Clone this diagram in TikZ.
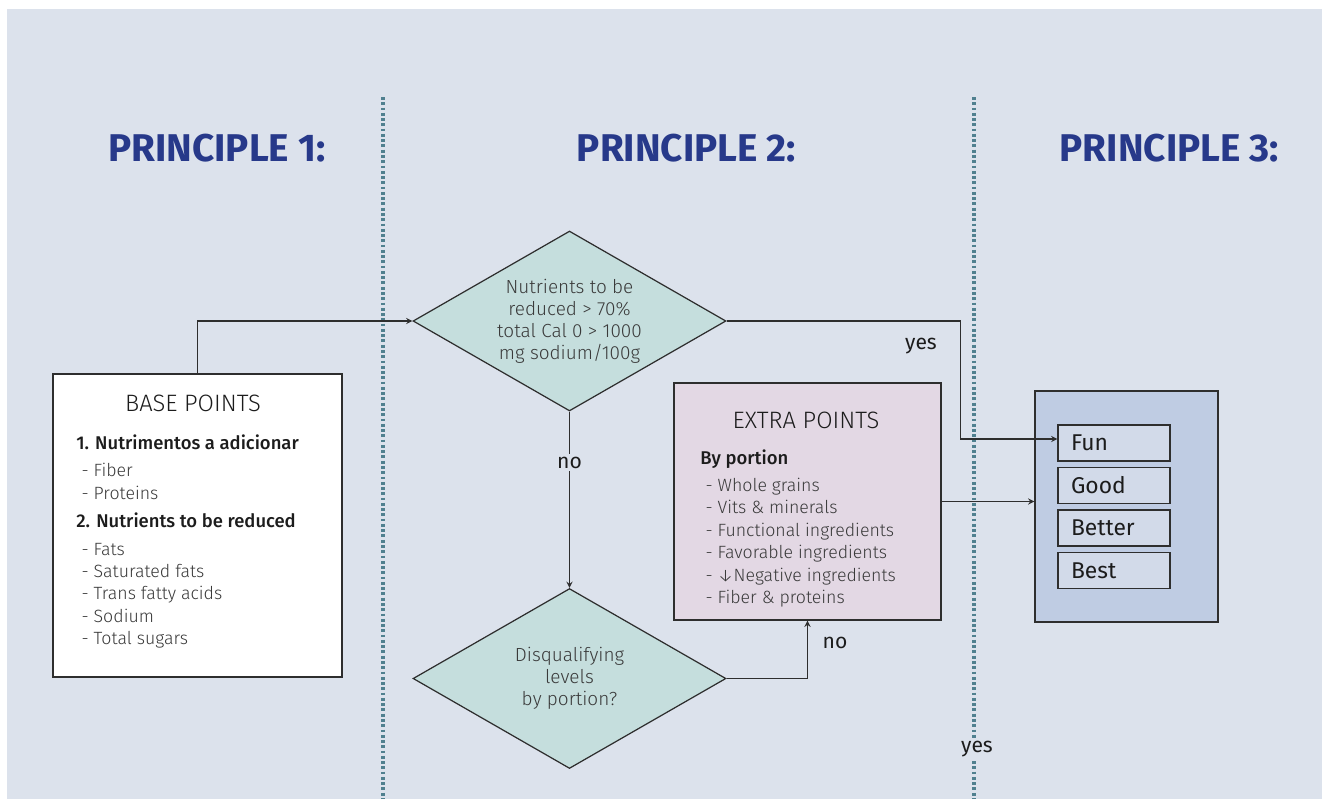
\documentclass[tikz,border=0pt]{standalone}
\usepackage{fontspec}
\setmainfont{Fira Sans}[UprightFont=* Light, BoldFont=* Medium]
\newfontfamily\headfont{Fira Sans}[UprightFont=* Bold]
\newfontfamily\labelfont{Fira Sans}
\usetikzlibrary{shapes.geometric, arrows}
\definecolor{fondo}{HTML}{DCE2EC}
\definecolor{azultitulo}{HTML}{27398A}
\definecolor{punteado}{HTML}{50808F}
\definecolor{rombofill}{HTML}{C5DEDD}
\definecolor{extrafill}{HTML}{E3D8E4}
\definecolor{p3fill}{HTML}{BFCCE3}
\definecolor{nivelfill}{HTML}{D2DAE9}
\definecolor{linea}{HTML}{2E2E2E}
\definecolor{texto}{HTML}{3A3A3A}
\definecolor{negro}{HTML}{1C1C1C}
\newcommand\encabezado[1]{{\color{negro}\bfseries\fontsize{10.5}{12.75}\selectfont #1}}
\tikzset{
	>=stealth, % puntas de flecha finas
	principio/.style={font=\headfont\fontsize{22}{26}\selectfont, text=azultitulo}, % titulos de columna
	separador/.style={draw=punteado, line width=1.8pt, dash pattern=on 1.6pt off 1.4pt}, % lineas punteadas
	caja/.style={draw=linea, line width=0.8pt}, % cajas rectangulares
	titulo/.style={font=\fontsize{13.5}{16}\selectfont, text=negro}, % titulo de cada caja
	lista/.style={font=\fontsize{10.1}{12.75}\selectfont, text=texto, align=left, inner sep=0pt}, % listas
	rombo/.style={diamond, draw=linea, line width=0.7pt, fill=rombofill, aspect=1.74, inner sep=0pt,
		minimum width=6.26cm, minimum height=3.6cm, align=center, text=texto,
		font=\fontsize{10.8}{12.6}\selectfont}, % decisiones
	nivel/.style={draw=linea, line width=0.7pt, fill=nivelfill, minimum height=0.72cm, text width=1.72cm,
		inner xsep=0.26cm, align=left, text=negro, font=\labelfont\fontsize{13}{15}\selectfont}, % niveles
	etiqueta/.style={font=\labelfont\fontsize{12}{14}\selectfont, text=negro, inner sep=1.5pt}, % yes / no
	flecha/.style={->, draw=linea, line width=0.6pt} % conectores
}

\begin{document}
\begin{tikzpicture}[x=0.02cm, y=-0.02cm]
	\path[use as bounding box] (0,0) rectangle (1322,799);
	\fill[fondo] (7,9) rectangle (1322,799);
	\draw[separador] (383,97) -- (383,799);
	\draw[separador] (974,97) -- (974,799);

	\node[principio] (t1) at (217,148) {PRINCIPLE 1:};
	\node[principio] (t2) at (686.5,148) {PRINCIPLE 2:};
	\node[principio] (t3) at (1169.5,148) {PRINCIPLE 3:};

	% principio 1
	\node[caja, fill=white, minimum width=5.78cm, minimum height=6.06cm] (base) at (197.5,525.5) {};
	\node[titulo] (basetit) at (193,403.5) {BASE POINTS};
	\node[lista, anchor=north west] (baselista) at (76,434) {\encabezado{1. Nutrimentos a adicionar}\\[3.1pt]
		\hspace{3pt}- Fiber\\
		\hspace{3pt}- Proteins\\[3.1pt]
		\encabezado{2. Nutrients to be reduced}\\[3.1pt]
		\hspace{3pt}- Fats\\
		\hspace{3pt}- Saturated fats\\
		\hspace{3pt}- Trans fatty acids\\
		\hspace{3pt}- Sodium\\
		\hspace{3pt}- Total sugars};

	% principio 2
	\node[rombo] (d1) at (569.5,321) {Nutrients to be\\reduced > 70\%\\total Cal 0 > 1000\\mg sodium/100g};
	\node[rombo] (d2) at (569.5,678.5) {Disqualifying\\levels\\by portion?};
	\node[caja, fill=extrafill, minimum width=5.34cm, minimum height=4.74cm] (extra) at (807.5,501.5) {};
	\node[titulo] (extratit) at (806,420.5) {EXTRA POINTS};
	\node[lista, anchor=north west] (extralista) at (700,449.5) {\encabezado{By portion}\\[2.6pt]
		\hspace{3pt}- Whole grains\\
		\hspace{3pt}- Vits \& minerals\\
		\hspace{3pt}- Functional ingredients\\
		\hspace{3pt}- Favorable ingredients\\
		\hspace{3pt}- ↓Negative ingredients\\
		\hspace{3pt}- Fiber \& proteins};

	% principio 3
	\node[caja, fill=p3fill, minimum width=3.66cm, minimum height=4.62cm] (p3) at (1126.5,506.5) {};
	\node[nivel] (fun) at (1114,443) {Fun};
	\node[nivel, below of=fun, node distance=0.85cm] (good) {Good};
	\node[nivel, below of=good, node distance=0.85cm] (better) {Better};
	\node[nivel, below of=better, node distance=0.85cm] (best) {Best};

	% conectores
	\draw[flecha] (base.north) |- (d1.west);
	\draw[flecha] (d1.east) -- ++(234,0) |- ([yshift=0.08cm]fun.west);
	\node[etiqueta] (si1) at (921,346) {yes};
	\draw[flecha] (d1.south) -- node[etiqueta, fill=fondo, pos=0.29] (no1) {no} (d2.north);
	\draw[flecha] (d2.east) -| (extra.south);
	\node[etiqueta] (no2) at (835,643) {no};
	\draw[flecha] (extra.east) -- (extra.east -| p3.west);
	\node[etiqueta, fill=fondo] (si2) at (977,749) {yes};
\end{tikzpicture}
\end{document}
